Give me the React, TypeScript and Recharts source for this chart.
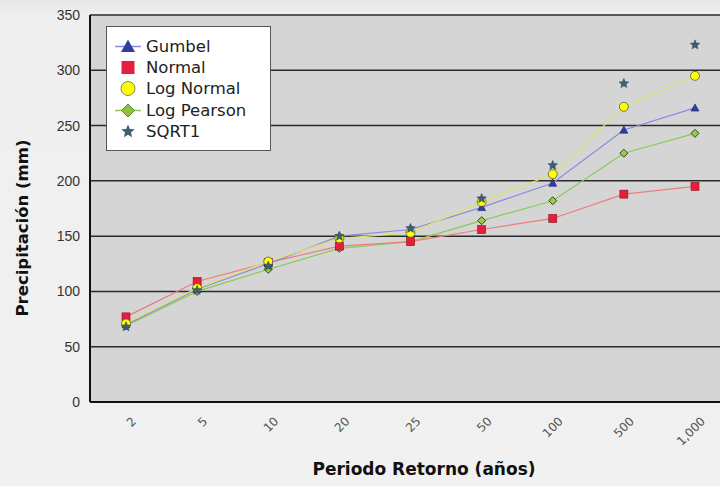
import { CartesianGrid, Line, LineChart, XAxis, YAxis } from "recharts";

const CATEGORIES = ["2", "5", "10", "20", "25", "50", "100", "500", "1,000"];
const GUMBEL = [70, 102, 125, 150, 156, 176, 198, 246, 266];
const NORMAL = [77, 109, 126, 141, 145, 156, 166, 188, 195];
const LOG_NORMAL = [71, 103, 127, 148, 153, 181, 206, 267, 295];
const LOG_PEARSON = [69, 100, 120, 139, 145, 164, 182, 225, 243];
const SQRT1 = [68, 101, 123, 150, 157, 184, 214, 288, 323];
const Y_TICKS = [0, 50, 100, 150, 200, 250, 300, 350];

const data = CATEGORIES.map((c, i) => ({
  periodo: c,
  gumbel: GUMBEL[i],
  normal: NORMAL[i],
  logNormal: LOG_NORMAL[i],
  logPearson: LOG_PEARSON[i],
  sqrt1: SQRT1[i],
}));

const FONT = "'DejaVu Sans', Verdana, sans-serif";

// marker shapes, drawn around (cx, cy)
const triangle = (cx: number, cy: number, s = 4) =>
  `M${cx},${cy - s} L${cx + s},${cy + s * 0.8} L${cx - s},${cy + s * 0.8} Z`;
const diamond = (cx: number, cy: number, s = 4) =>
  `M${cx},${cy - s} L${cx + s},${cy} L${cx},${cy + s} L${cx - s},${cy} Z`;
const star = (cx: number, cy: number, r = 5) => {
  const pts: string[] = [];
  for (let i = 0; i < 10; i++) {
    const rad = i % 2 === 0 ? r : r * 0.45;
    const a = -Math.PI / 2 + (i * Math.PI) / 5;
    pts.push(`${cx + rad * Math.cos(a)},${cy + rad * Math.sin(a)}`);
  }
  return `M${pts.join(" L")} Z`;
};

const TriDot = (p: any) => <path key={p.index} d={triangle(p.cx, p.cy)} fill="#2f3f9f" stroke="#1c2466" strokeWidth={0.6} />;
const SquareDot = (p: any) => (
  <rect key={p.index} x={p.cx - 4} y={p.cy - 4} width={8} height={8} fill="#e61e3c" stroke="#8a1020" strokeWidth={0.6} />
);
const CircleDot = (p: any) => <circle key={p.index} cx={p.cx} cy={p.cy} r={4.5} fill="#ffff00" stroke="#555" strokeWidth={0.8} />;
const DiamondDot = (p: any) => <path key={p.index} d={diamond(p.cx, p.cy)} fill="#9cc850" stroke="#2f4a1a" strokeWidth={1} />;
const StarDot = (p: any) => <path key={p.index} d={star(p.cx, p.cy)} fill="#3d5f6e" stroke="#24404c" strokeWidth={0.5} />;

const LEGEND_ITEMS = [
  { name: "Gumbel", line: "#8a8ae0", icon: (x: number, y: number) => <path d={triangle(x, y, 7)} fill="#2f3f9f" /> },
  { name: "Normal", line: null, icon: (x: number, y: number) => <rect x={x - 6.5} y={y - 6.5} width={13} height={13} fill="#e61e3c" /> },
  { name: "Log Normal", line: null, icon: (x: number, y: number) => <circle cx={x} cy={y} r={7} fill="#ffff00" stroke="#666" strokeWidth={0.8} /> },
  { name: "Log Pearson", line: "#88cc55", icon: (x: number, y: number) => <path d={diamond(x, y, 6.5)} fill="#8fc13a" stroke="#4a6a2a" strokeWidth={0.8} /> },
  { name: "SQRT1", line: null, icon: (x: number, y: number) => <path d={star(x, y, 7)} fill="#3d5f6e" /> },
];

function LegendBox() {
  return (
    <div
      style={{
        position: "absolute",
        left: 106,
        top: 26,
        width: 165,
        height: 125,
        background: "#fff",
        border: "1px solid #555",
        boxSizing: "border-box",
        paddingTop: 9,
      }}
    >
      {LEGEND_ITEMS.map((it) => (
        <div key={it.name} style={{ display: "flex", alignItems: "center", height: 21.2 }}>
          <svg width={39} height={21} style={{ flex: "none" }}>
            {it.line && <line x1={8} x2={34} y1={10.5} y2={10.5} stroke={it.line} strokeWidth={1.5} />}
            {it.icon(21, 10.5)}
          </svg>
          <span style={{ fontFamily: FONT, fontSize: 16.5, color: "#222" }}>{it.name}</span>
        </div>
      ))}
    </div>
  );
}

const XTick = ({ x, y, payload }: any) => (
  <text
    x={x + 11}
    y={y + 12}
    transform={`rotate(-45 ${x + 11} ${y + 12})`}
    textAnchor="end"
    fontFamily={FONT}
    fontSize={12}
    fill="#555"
  >
    {payload.value}
  </text>
);

export default function App() {
  return (
    <div
      style={{
        position: "absolute",
        left: 0,
        top: 0,
        width: 720,
        height: 486,
        overflow: "hidden",
        background: "linear-gradient(#e6e6e6 0px, #efefef 16px, #f1f1f1 100%)",
      }}
    >
      <LineChart width={740} height={486} data={data} margin={{ top: 15, right: 9, bottom: 0, left: 0 }}>
        <CartesianGrid vertical={false} stroke="#2a2a2a" strokeWidth={1.5} fill="#d5d5d5" fillOpacity={1} />
        <XAxis
          dataKey="periodo"
          height={84}
          padding={{ left: 36, right: 36 }}
          tickLine={false}
          axisLine={{ stroke: "#111", strokeWidth: 2 }}
          tick={<XTick />}
          interval={0}
          label={{
            content: () => (
              <text x={424} y={475} textAnchor="middle" fontFamily={FONT} fontSize={17} fontWeight="bold" fill="#111">
                Periodo Retorno (años)
              </text>
            ),
          }}
        />
        <YAxis
          width={90}
          domain={[0, 350]}
          ticks={Y_TICKS}
          tickLine={false}
          tickMargin={4}
          axisLine={{ stroke: "#111", strokeWidth: 2 }}
          tick={{ fontFamily: "'Liberation Sans', Arial, sans-serif", fontSize: 14, fill: "#333" }}
          label={{
            content: () => (
              <text
                x={28}
                y={228}
                transform="rotate(-90 28 228)"
                textAnchor="middle"
                fontFamily={FONT}
                fontSize={16.5}
                fontWeight="bold"
                fill="#111"
              >
                Precipitación (mm)
              </text>
            ),
          }}
        />
        <Line dataKey="logPearson" name="Log Pearson" stroke="#88cc55" strokeWidth={1.2} dot={DiamondDot} isAnimationActive={false} />
        <Line dataKey="normal" name="Normal" stroke="#ee7c7c" strokeWidth={1.2} dot={SquareDot} isAnimationActive={false} />
        <Line dataKey="gumbel" name="Gumbel" stroke="#8a8ae0" strokeWidth={1.2} dot={TriDot} isAnimationActive={false} />
        <Line dataKey="logNormal" name="Log Normal" stroke="#e2e26a" strokeWidth={1.2} dot={CircleDot} isAnimationActive={false} />
        <Line dataKey="sqrt1" name="SQRT1" stroke="none" dot={StarDot} isAnimationActive={false} />
      </LineChart>
      <LegendBox />
    </div>
  );
}
